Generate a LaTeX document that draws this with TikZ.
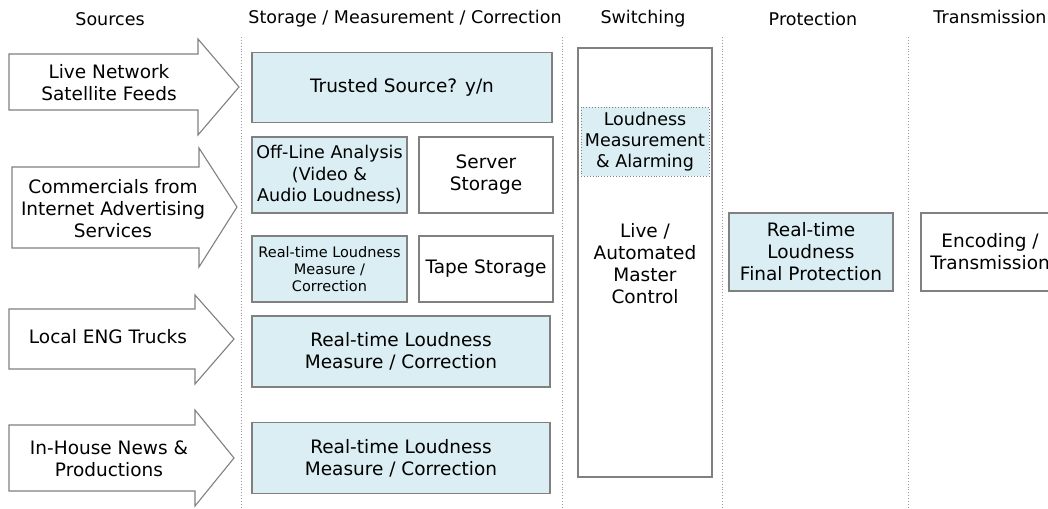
\documentclass[tikz,border=0pt]{standalone}
\usepackage{fontspec}
\setmainfont{DejaVu Sans}

\definecolor{boxblue}{HTML}{DAEEF3}
\definecolor{edgegray}{HTML}{808080}

\tikzset{
    box/.style={draw=edgegray, line width=1.3pt, fill=white, align=center,
        inner sep=0pt, font=\fontsize{18.5}{22}\selectfont},
    bluebox/.style={box, fill=boxblue},
    smallbox/.style={bluebox, font=\fontsize{14.5}{17}\selectfont},
    header/.style={font=\fontsize{17.5}{20}\selectfont},
    srcarrow/.style={draw=edgegray, line width=1.1pt, fill=white},
    srctext/.style={align=center, font=\fontsize{18.5}{22}\selectfont},
    divider/.style={draw=gray!80, line width=0.9pt, dotted}
}

\begin{document}
\begin{tikzpicture}[x=1pt, y=-1pt]
    \useasboundingbox (0,0) rectangle (1048,508);
    \clip (0,0) rectangle (1048,508);

    % column titles
    \node[header] (hsrc)   at (110, 19) {Sources};
    \node[header] (hstore) at (405, 19) {Storage / Measurement / Correction};
    \node[header] (hswt)   at (643, 19) {Switching};
    \node[header] (hprot)  at (813, 19) {Protection};
    \node[header] (htx)    at (990, 17) {Transmission};

    % column dividers
    \foreach \xx in {241, 562, 722, 908}
        \draw[divider] (\xx, 37) -- (\xx, 508);

    % source arrows
    \draw[srcarrow] (9,54) -- (198,54) -- (198,39) -- (239,87)
        -- (198,135) -- (198,110) -- (9,110) -- cycle;
    \node[srctext] (live) at (109, 83) {Live Network\\Satellite Feeds};

    \draw[srcarrow] (12,167) -- (199,167) -- (199,148) -- (237,207)
        -- (199,267) -- (199,248) -- (12,248) -- cycle;
    \node[srctext] (comm) at (113, 209) {Commercials from\\Internet Advertising\\Services};

    \draw[srcarrow] (9,309) -- (195,309) -- (195,295) -- (234,339)
        -- (195,384) -- (195,369) -- (9,369) -- cycle;
    \node[srctext] (eng) at (108, 337) {Local ENG Trucks};

    \draw[srcarrow] (9,425) -- (195,425) -- (195,410) -- (234,458)
        -- (195,506) -- (195,491) -- (9,491) -- cycle;
    \node[srctext] (news) at (109, 459) {In-House News \&\\Productions};

    % storage / measurement / correction
    \node[bluebox, minimum width=300pt, minimum height=70pt] (trust) at (402, 87.5) {Trusted Source? y/n};
    \node[bluebox, font=\fontsize{17.5}{21.5}\selectfont, minimum width=155pt, minimum height=76pt] (offline) at (329.5, 175) {Off-Line Analysis\\(Video \&\\Audio Loudness)};
    \node[box, minimum width=134pt, minimum height=76pt] (server) at (486, 175) {Server\\Storage};
    \node[smallbox, minimum width=155pt, minimum height=66pt] (rtcomm) at (329.5, 269) {Real-time Loudness\\Measure /\\Correction};
    \node[box, minimum width=134pt, minimum height=66pt] (tape) at (486, 269) {Tape Storage};
    \node[bluebox, minimum width=298pt, minimum height=71pt] (rteng) at (401, 351.5) {Real-time Loudness\\Measure / Correction};
    \node[bluebox, minimum width=298pt, minimum height=71pt] (rtnews) at (401, 458) {Real-time Loudness\\Measure / Correction};

    % switching
    \node[box, minimum width=134pt, minimum height=429pt] (master) at (645, 262.5) {};
    \node[bluebox, draw=gray, line width=0.9pt, dotted, font=\fontsize{17.5}{21}\selectfont, minimum width=128pt, minimum height=69pt] (alarm) at (645, 141.5) {Loudness\\Measurement\\\& Alarming};
    \node[srctext] (mctext) at (645, 264) {Live /\\Automated\\Master\\Control};

    % protection and transmission
    \node[bluebox, minimum width=164pt, minimum height=78pt] (final) at (811, 252) {Real-time\\Loudness\\Final Protection};
    \node[box, minimum width=138pt, minimum height=78pt] (encode) at (990, 252) {Encoding /\\Transmission};
\end{tikzpicture}
\end{document}
